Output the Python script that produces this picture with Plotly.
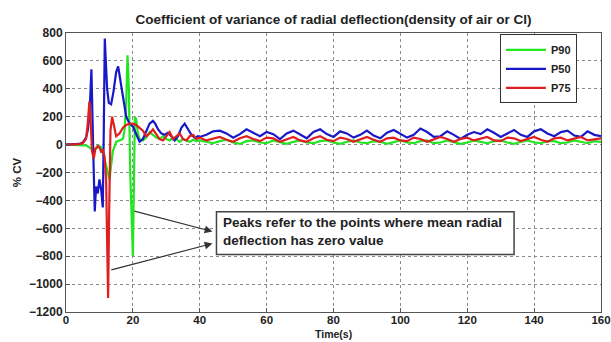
import plotly.graph_objects as go

# ---- data ----
t_p90 = [0, 2, 4, 6, 7, 8, 9, 10, 10.5, 11, 12, 13, 14, 15, 16, 17, 17.5, 18, 18.4, 18.8, 19.2, 19.6, 20, 20.3, 20.6, 21, 21.5, 22,
         23, 24, 25, 26, 27, 28, 29, 30, 31, 32, 33, 34, 35, 36, 37, 38, 39]
v_p90 = [0, 0, 0, -5, -20, -40, -30, -10, -20, -50, -150, -250, -50, 20, 30, 40, 100, 300, 640, 400, -200, -600, -800, -300, 200, 180, 80, 40,
         30, 50, 90, 70, 50, 40, 60, 40, 30, 50, 40, 20, 40, 30, 20, 35, 25]
t_p90_late = list(range(40, 161, 2))
v_p90_late = [30, 20, 10, 25, 35, 15, 5, 25, 30, 15, 10, 30, 20, 5, 20, 30, 15, 10, 25, 30, 15, 5, 20, 30, 15, 10, 25, 20, 5, 20, 30,
              15, 10, 25, 30, 10, 15, 30, 20, 5, 15, 30, 20, 10, 25, 30, 15, 5, 20, 30, 15, 10, 25, 25, 10, 15, 30, 20, 10, 25, 20]

t_p50 = [0, 2, 4, 5, 6, 6.5, 7, 7.6, 7.9, 8.2, 8.6, 9, 9.5, 10, 10.5, 11, 11.3, 11.6, 11.9, 12.3, 12.8, 13.5, 14.2, 15, 15.6, 16.2, 17,
         18, 19, 20, 21, 22, 23, 24, 25, 26, 26.7, 27.5, 28.5, 29.5, 30.5, 31.5, 32.5, 33.5, 34.5, 35.5, 36.5, 37.5, 38.5, 39.5]
v_p50 = [0, 0, 5, 15, 50, 100, 200, 540, 300, -100, -480, -300, -350, -250, -320, -450, 100, 760, 600, 400, 300, 290, 380, 520, 560, 480, 350,
         200, 150, 130, 80, 20, 40, 100, 150, 170, 150, 110, 80, 70, 85, 60, 30, 60, 120, 150, 110, 70, 50, 60]
t_p50_late = list(range(40, 161, 2))
v_p50_late = [55, 70, 95, 100, 80, 50, 75, 110, 85, 60, 90, 75, 40, 80, 100, 70, 45, 90, 110, 75, 55, 95, 80, 50, 70, 100, 65, 45, 85, 105,
              80, 50, 70, 115, 90, 55, 60, 95, 70, 40, 70, 90, 75, 110, 85, 55, 80, 105, 70, 55, 95, 110, 80, 60, 90, 100, 65, 55, 95, 70, 60]

t_p75 = [0, 2, 4, 5, 6, 6.5, 7, 7.3, 7.8, 8.3, 8.8, 9.5, 10, 10.5, 11, 11.5, 12, 12.3, 12.6, 12.9, 13.3, 13.8, 14.3, 15, 16, 17, 18, 19,
         20, 21, 22, 23, 24, 25, 26, 27, 28, 29, 30, 31, 32, 33, 34, 35, 36, 37, 38, 39]
v_p75 = [0, 0, 3, 10, 40, 150, 310, 200, -50, -100, -30, -10, -20, -50, -40, -80, -250, -700, -1100, -500, 100, 200, 150, 60, 80, 120, 140, 150,
         150, 140, 120, 100, 60, 80, 110, 70, 40, 30, 60, 90, 40, 60, 80, 40, 30, 60, 70, 40]
t_p75_late = list(range(40, 161, 2))
v_p75_late = [50, 30, 45, 55, 35, 20, 45, 60, 40, 25, 50, 45, 20, 40, 55, 30, 20, 45, 60, 35, 25, 50, 40, 20, 40, 55, 35, 20, 45, 50, 30,
              25, 50, 40, 20, 35, 55, 40, 20, 40, 50, 30, 45, 55, 30, 25, 50, 45, 25, 40, 55, 35, 20, 45, 50, 30, 40, 55, 30, 35, 45]

x_ticks = [0, 20, 40, 60, 80, 100, 120, 140, 160]
y_ticks = [-1200, -1000, -800, -600, -400, -200, 0, 200, 400, 600, 800]

title_text = "Coefficient of variance of radial deflection(density of air or Cl)"
note_text = "Peaks refer to the points where mean radial<br>deflection has zero value"

FONT = "Liberation Sans, Arial, sans-serif"

fig = go.Figure()
series = [
    ("P90", t_p90 + t_p90_late, v_p90 + v_p90_late, "#22e622"),
    ("P50", t_p50 + t_p50_late, v_p50 + v_p50_late, "#1818c8"),
    ("P75", t_p75 + t_p75_late, v_p75 + v_p75_late, "#e02020"),
]
for name, t, v, c in series:
    fig.add_trace(go.Scatter(x=t, y=v, mode="lines", name="<b>%s</b>" % name,
                             line=dict(color=c, width=2.2)))

axis_common = dict(showgrid=True, gridcolor="#8a8a8a", griddash="dot", gridwidth=1,
                   zeroline=False, showline=True, linecolor="#555", linewidth=1, mirror=True,
                   ticks="inside", ticklen=4, tickcolor="#555", ticklabeloverflow="allow",
                   automargin=False)

fig.update_layout(
    width=611, height=342,
    margin=dict(l=66, r=10, t=33, b=30),
    paper_bgcolor="white", plot_bgcolor="white",
    title=dict(text="<b>%s</b>" % title_text, x=(66 + 601) / 2 / 611, xanchor="center",
               y=1 - 19 / 342, yanchor="middle",
               font=dict(family=FONT, size=13.5, color="#222")),
    xaxis=dict(range=[0, 160], tickvals=x_ticks, ticklabelstandoff=-3, **axis_common,
               tickfont=dict(family=FONT, size=11.5, color="#222", weight="bold")),
    yaxis=dict(range=[-1200, 800], tickvals=y_ticks, **axis_common,
               tickfont=dict(family=FONT, size=12, color="#222", weight="bold"),
               title=dict(text="<b>% CV</b>", standoff=4, font=dict(family=FONT, size=11.5, color="#222"))),
    legend=dict(x=0.955, y=0.995, xanchor="right", yanchor="top", bgcolor="white",
                bordercolor="#333", borderwidth=1, tracegroupgap=0,
                font=dict(family=FONT, size=11, color="#222"), itemwidth=40),
    showlegend=True,
)

# x-axis title as a paper annotation at the very bottom (as in the reference)
fig.add_annotation(xref="paper", yref="paper", x=0.5, y=-30 / 279, xanchor="center", yanchor="bottom",
                   text="<b>Time(s)</b>", showarrow=False, font=dict(family=FONT, size=10.5, color="#222"))

# annotation box and arrows
fig.add_shape(type="rect", xref="x", yref="y", x0=45, x1=134, y0=-787, y1=-481,
              line=dict(color="#444", width=1.5), fillcolor="white")
fig.add_annotation(xref="x", yref="y", x=46.5, y=-622, text="<b>%s</b>" % note_text, showarrow=False,
                   xanchor="left", yanchor="middle", align="left",
                   font=dict(family=FONT, size=13.5, color="#222"))
fig.add_annotation(xref="x", yref="y", axref="x", ayref="y", x=43.8, y=-623, ax=20, ay=-474,
                   text="", showarrow=True, arrowhead=2, arrowsize=1.3, arrowwidth=1.2, arrowcolor="#333")
fig.add_annotation(xref="x", yref="y", axref="x", ayref="y", x=43.8, y=-709, ax=13.1, ay=-901,
                   text="", showarrow=True, arrowhead=2, arrowsize=1.3, arrowwidth=1.2, arrowcolor="#333")

fig.write_html("out.html")
